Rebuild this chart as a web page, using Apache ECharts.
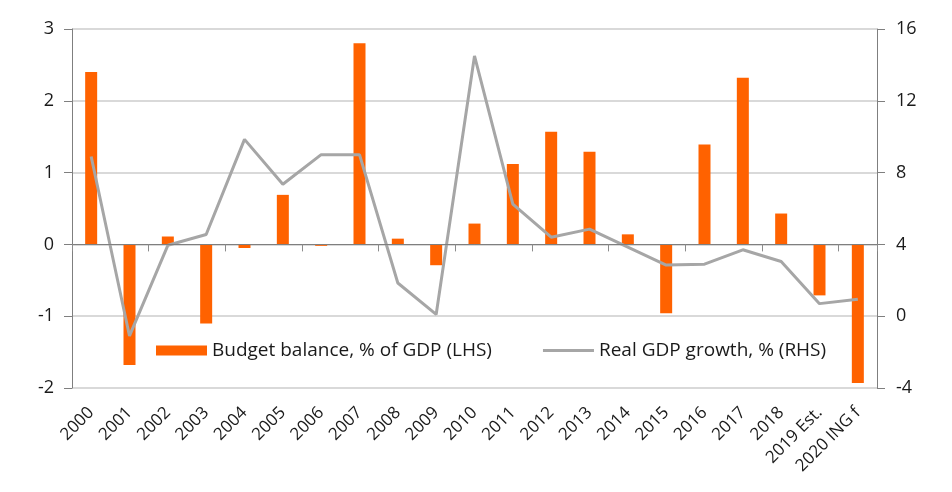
<!DOCTYPE html>
<html>
<head>
<meta charset="utf-8">
<script src="https://cdn.jsdelivr.net/npm/echarts@6/dist/echarts.min.js"></script>
<style>
  html, body { margin: 0; padding: 0; background: #fff; }
  #chart { width: 952px; height: 492px; }
</style>
</head>
<body>
<div id="chart"></div>
<script>
var years = ['2000', '2001', '2002', '2003', '2004', '2005', '2006', '2007', '2008', '2009', '2010',
  '2011', '2012', '2013', '2014', '2015', '2016', '2017', '2018', '2019 Est.', '2020 ING f'];
var budgetBalance = [2.40, -1.68, 0.11, -1.10, -0.05, 0.69, -0.02, 2.80, 0.08, -0.29, 0.29,
  1.12, 1.57, 1.29, 0.14, -0.96, 1.39, 2.32, 0.43, -0.71, -1.93];
var gdpGrowth = [8.9, -1.1, 3.95, 4.55, 9.85, 7.35, 9.0, 9.0, 1.85, 0.1, 14.5,
  6.25, 4.4, 4.85, 3.85, 2.85, 2.9, 3.7, 3.05, 0.7, 0.95];
var leftTicks = [-2, 3, 1];   // min, max, step
var rightTicks = [-4, 16, 4];

var font = 'Open Sans';
var chart = echarts.init(document.getElementById('chart'));

// second (empty) grid ends exactly at the zero line, so its x axis draws the ticks there
var plotTop = 29, plotH = 359;
var zeroFromTop = plotH * leftTicks[1] / (leftTicks[1] - leftTicks[0]);

var option = {
  animation: false,
  textStyle: { fontFamily: font },
  grid: [
    { left: 72, right: 75, top: plotTop, height: plotH, containLabel: false, outerBoundsMode: 'none' },
    { left: 72, right: 75, top: plotTop, height: zeroFromTop, containLabel: false, outerBoundsMode: 'none' }
  ],
  legend: {
    left: 156,
    top: 341,
    padding: 0,
    itemWidth: 51,
    itemHeight: 10,
    itemGap: 51,
    textStyle: { fontFamily: font, fontSize: 19, color: '#1a1a1a' },
    data: [
      { name: 'Budget balance, % of GDP (LHS)', icon: 'rect' },
      { name: 'Real GDP growth, % (RHS)', icon: 'path://M0,0L51,0L51,3L0,3Z' }
    ]
  },
  xAxis: [
    {
      type: 'category',
      gridIndex: 0,
      data: years,
      position: 'bottom',
      axisLine: { show: false, onZero: false },
      axisTick: { show: false },
      axisLabel: {
        rotate: 45,
        margin: 22,
        interval: 0,
        fontFamily: font,
        fontSize: 17,
        color: '#1a1a1a'
      }
    },
    {
      type: 'category',
      gridIndex: 1,
      data: years,
      position: 'bottom',
      z: 5,
      axisLine: { show: true, onZero: false, lineStyle: { color: '#7f7f7f', width: 1 } },
      axisTick: { show: true, inside: false, length: 7, lineStyle: { color: '#8c8c8c', width: 1 } },
      axisLabel: { show: false }
    }
  ],
  yAxis: [
    {
      type: 'value',
      gridIndex: 0,
      min: leftTicks[0],
      max: leftTicks[1],
      interval: leftTicks[2],
      axisLine: { show: true, lineStyle: { color: '#7f7f7f' } },
      axisTick: { show: true, length: 8, lineStyle: { color: '#7f7f7f' } },
      axisLabel: { fontFamily: font, fontSize: 18, color: '#1a1a1a', margin: 18 },
      splitLine: { show: true, lineStyle: { color: '#d9d9d9', width: 2 } }
    },
    {
      type: 'value',
      gridIndex: 0,
      min: rightTicks[0],
      max: rightTicks[1],
      interval: rightTicks[2],
      axisLine: { show: true, lineStyle: { color: '#7f7f7f' } },
      axisTick: { show: true, length: 8, lineStyle: { color: '#7f7f7f' } },
      axisLabel: { fontFamily: font, fontSize: 18, color: '#1a1a1a', margin: 19 },
      splitLine: { show: false }
    },
    {
      type: 'value',
      gridIndex: 1,
      min: 0,
      max: 1,
      show: false
    }
  ],
  series: [
    {
      name: 'Budget balance, % of GDP (LHS)',
      type: 'bar',
      xAxisIndex: 0,
      yAxisIndex: 0,
      barWidth: 12,
      itemStyle: { color: '#ff6200' },
      data: budgetBalance,
      markLine: {
        silent: true,
        symbol: 'none',
        label: { show: false },
        lineStyle: { color: '#7f7f7f', width: 1, type: 'solid' },
        data: [{ yAxis: 0 }]
      }
    },
    {
      name: 'Real GDP growth, % (RHS)',
      type: 'line',
      xAxisIndex: 0,
      yAxisIndex: 1,
      symbol: 'none',
      lineStyle: { color: '#a6a6a6', width: 3 },
      itemStyle: { color: '#a6a6a6' },
      z: 3,
      data: gdpGrowth
    },
    {
      name: 'zero axis',
      type: 'bar',
      xAxisIndex: 1,
      yAxisIndex: 2,
      silent: true,
      data: []
    }
  ]
};

chart.setOption(option);
</script>
</body>
</html>
